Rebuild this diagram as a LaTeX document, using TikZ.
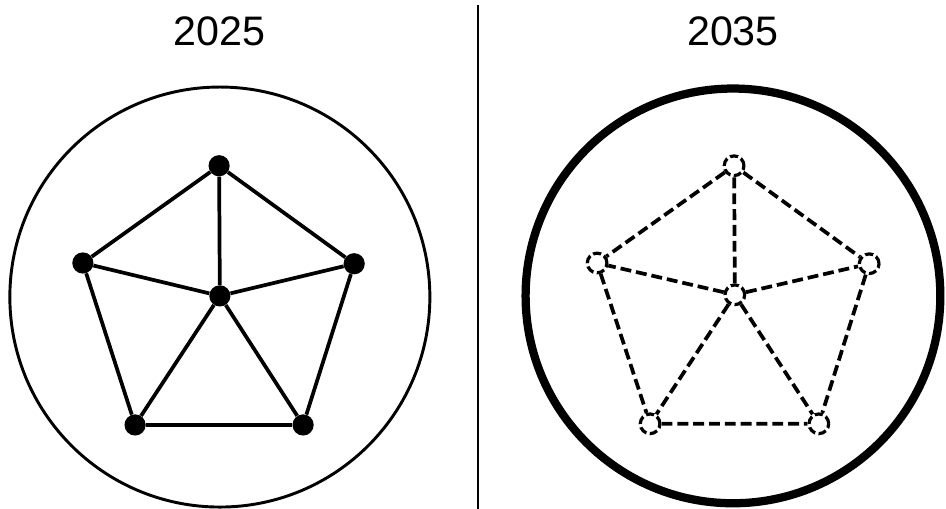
\documentclass[tikz,border=0pt]{standalone}
\usepackage{fontspec}
\setmainfont{Liberation Sans}

\begin{document}
\begin{tikzpicture}[x=1cm,y=1cm,
  year/.style={font=\fontsize{31}{36}\selectfont},
  ring/.style={draw=black,line width=2.2pt},
  solidvertex/.style={circle,fill=black,inner sep=0pt,minimum size=.56cm},
  openvertex/.style={circle,draw=black,fill=white,line width=2.4pt,inner sep=0pt,
    minimum size=.52cm,dash pattern=on 6pt off 2.6pt},
  link/.style={line width=2.8pt},
  dashlink/.style={line width=2.8pt,dash pattern=on 8.2pt off 3.7pt}]
\useasboundingbox (0,0) rectangle (25,13.45);
\fill[white] (0,0) rectangle (25,13.45);

% 2025: SOLID NETWORK
\node[year] (t2025) at (5.81,12.61) {2025};
\draw[ring] (5.81,5.60) circle (5.55);
\node[solidvertex] (a-top) at (5.79,9.07) {};
\node[solidvertex] (a-left) at (2.19,6.50) {};
\node[solidvertex] (a-right) at (9.36,6.48) {};
\node[solidvertex] (a-mid) at (5.81,5.63) {};
\node[solidvertex] (a-bl) at (3.57,2.22) {};
\node[solidvertex] (a-br) at (8.01,2.22) {};
\draw[link] (a-top)--(a-left) (a-top)--(a-right) (a-left)--(a-bl)
  (a-right)--(a-br) (a-bl)--(a-br);
\draw[link] (a-mid)--(a-top) (a-mid)--(a-left) (a-mid)--(a-right)
  (a-mid)--(a-bl) (a-mid)--(a-br);

% divider
\draw[line width=1.2pt] (12.63,13.32)--(12.63,0);

% 2035: DASHED NETWORK IN A HEAVY RING
\node[year] (t2035) at (19.37,12.61) {2035};
\draw[ring,line width=6.2pt] (19.37,5.63) circle (5.48);
\node[openvertex] (b-top) at (19.40,9.07) {};
\node[openvertex] (b-left) at (15.78,6.50) {};
\node[openvertex] (b-right) at (22.97,6.48) {};
\node[openvertex] (b-mid) at (19.42,5.66) {};
\node[openvertex] (b-bl) at (17.18,2.25) {};
\node[openvertex] (b-br) at (21.64,2.25) {};
\draw[dashlink] (b-top)--(b-left) (b-top)--(b-right) (b-left)--(b-bl)
  (b-right)--(b-br) (b-bl)--(b-br);
\draw[dashlink] (b-mid)--(b-top) (b-mid)--(b-left) (b-mid)--(b-right)
  (b-mid)--(b-bl) (b-mid)--(b-br);
\end{tikzpicture}
\end{document}
